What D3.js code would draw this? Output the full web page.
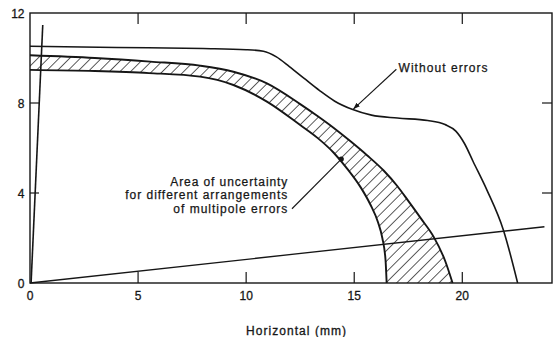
<!DOCTYPE html>
<html>
<head>
<meta charset="utf-8">
<script src="https://cdn.jsdelivr.net/npm/d3@7"></script>
<style>
  html, body { margin: 0; padding: 0; background: #fff; }
  svg { display: block; }
  text { font-family: "Liberation Sans", Arial, Helvetica, sans-serif; fill: #161616; }
</style>
</head>
<body>
<div id="chart"></div>
<script>
// ---- data ----
const xTicks = [5, 10, 15, 20];
const xTickLabels = [0, 5, 10, 15, 20];
const yTicks = [4, 8];
const yTickLabels = [0, 4, 8, 12];
const xLabel = "Horizontal (mm)";

// "Without errors" curve
const withoutErrorsX = [0, 4, 8, 10, 10.8, 11.4, 12.0, 12.7, 13.4, 14.1, 14.9, 15.8, 17.0, 18.4, 19.2, 19.7, 20.1, 20.5, 21.14, 21.9, 22.56];
const withoutErrorsY = [10.52, 10.47, 10.42, 10.37, 10.3, 10.05, 9.62, 9.08, 8.55, 8.08, 7.72, 7.46, 7.33, 7.22, 7.04, 6.75, 6.2, 5.4, 4.13, 2.36, 0];

// Area of uncertainty: outer boundary
const bandOuterX = [0, 3, 5.56, 7.87, 9.41, 10.96, 12.5, 13.3, 14.04, 14.8, 15.59, 16.36, 17.0, 17.5, 18.1, 18.67, 19.2, 19.55];
const bandOuterY = [10.12, 10.0, 9.84, 9.66, 9.39, 8.87, 7.95, 7.42, 6.9, 6.32, 5.68, 5.0, 4.3, 3.65, 2.85, 2.06, 1.0, 0];
// Area of uncertainty: inner boundary
const bandInnerX = [0, 3, 5.5, 7.87, 9.41, 10.96, 12.5, 13.3, 14.04, 14.7, 15.3, 15.74, 16.1, 16.3, 16.45, 16.5];
const bandInnerY = [9.47, 9.42, 9.33, 9.17, 8.8, 8.06, 7.02, 6.45, 5.8, 5.05, 4.25, 3.5, 2.7, 2.0, 1.0, 0];

// straight lines
const steepLineX = [0.05, 0.59];
const steepLineY = [0, 11.47];
const shallowLineX = [0, 23.8];
const shallowLineY = [0, 2.5];

const annotWithout = "Without errors";
const annotArea = ["Area of uncertainty", "for different arrangements", "of multipole errors"];

// ---- layout ----
const W = 554, H = 337;
const x = d3.scaleLinear().domain([0, 24.15]).range([30, 552]);
const y = d3.scaleLinear().domain([0, 12]).range([283, 13]);
const ink = "#161616";

const svg = d3.select("#chart").append("svg").attr("width", W).attr("height", H);
svg.append("rect").attr("width", W).attr("height", H).attr("fill", "#fff");

const defs = svg.append("defs");
const pat = defs.append("pattern")
  .attr("id", "hatch").attr("patternUnits", "userSpaceOnUse")
  .attr("width", 7.5).attr("height", 7.5)
  .attr("patternTransform", "rotate(45)");
pat.append("line").attr("x1", 0).attr("y1", 0).attr("x2", 0).attr("y2", 7.5)
  .attr("stroke", ink).attr("stroke-width", 1.4);

defs.append("marker").attr("id", "arrow")
  .attr("viewBox", "0 0 10 10").attr("refX", 9).attr("refY", 5)
  .attr("markerWidth", 7).attr("markerHeight", 7).attr("markerUnits", "userSpaceOnUse")
  .attr("orient", "auto")
  .append("path").attr("d", "M0,1.5 L10,5 L0,8.5 Z").attr("fill", ink);

const zip = (xs, ys) => xs.map((v, i) => [v, ys[i]]);
const line = d3.line().x(d => x(d[0])).y(d => y(d[1])).curve(d3.curveMonotoneX);
const straight = d3.line().x(d => x(d[0])).y(d => y(d[1]));

// band fill
const outerPts = zip(bandOuterX, bandOuterY);
const innerPts = zip(bandInnerX, bandInnerY);
const dOuter = line(outerPts);
const dInnerRev = line(innerPts.slice().reverse());
svg.append("path").attr("d", dOuter + dInnerRev.replace(/^M/, "L") + "Z")
  .attr("fill", "url(#hatch)").attr("stroke", "none");
svg.append("path").attr("d", dOuter).attr("fill", "none").attr("stroke", ink).attr("stroke-width", 1.9);
svg.append("path").attr("d", line(innerPts)).attr("fill", "none").attr("stroke", ink).attr("stroke-width", 1.9);

// without errors curve
svg.append("path").attr("d", line(zip(withoutErrorsX, withoutErrorsY)))
  .attr("fill", "none").attr("stroke", ink).attr("stroke-width", 1.6);

// straight lines
svg.append("path").attr("d", straight(zip(steepLineX, steepLineY)))
  .attr("fill", "none").attr("stroke", ink).attr("stroke-width", 1.6);
svg.append("path").attr("d", straight(zip(shallowLineX, shallowLineY)))
  .attr("fill", "none").attr("stroke", ink).attr("stroke-width", 1.3);

// frame
svg.append("rect")
  .attr("x", x(0)).attr("y", y(12))
  .attr("width", x(24.15) - x(0)).attr("height", y(0) - y(12))
  .attr("fill", "none").attr("stroke", ink).attr("stroke-width", 1.4);

// ticks (inward)
const tickG = svg.append("g").attr("stroke", ink).attr("stroke-width", 1.2);
xTicks.forEach(t => {
  tickG.append("line").attr("x1", x(t)).attr("x2", x(t)).attr("y1", y(0)).attr("y2", y(0) - 11);
  tickG.append("line").attr("x1", x(t)).attr("x2", x(t)).attr("y1", y(12)).attr("y2", y(12) + 11);
});
yTicks.forEach(t => {
  tickG.append("line").attr("x1", x(0)).attr("x2", x(0) + 9).attr("y1", y(t)).attr("y2", y(t));
  tickG.append("line").attr("x1", x(24.15)).attr("x2", x(24.15) - 10).attr("y1", y(t)).attr("y2", y(t));
});

// tick labels
const lab = svg.append("g").attr("font-size", 12).attr("stroke", ink).attr("stroke-width", 0.3);
xTickLabels.forEach(t => {
  lab.append("text").attr("x", x(t)).attr("y", y(0) + 16.5).attr("text-anchor", "middle").text(t);
});
yTickLabels.forEach(t => {
  lab.append("text").attr("x", x(0) - 5.5).attr("y", y(t) + 4.5).attr("text-anchor", "end").text(t);
});
lab.append("text").attr("x", 246).attr("y", 335).attr("textLength", 100)
  .attr("lengthAdjust", "spacing").text(xLabel);

// annotation: without errors
const annG = svg.append("g").attr("font-size", 12).attr("stroke", ink).attr("stroke-width", 0.25);
annG.append("text").attr("x", x(17.05)).attr("y", y(9.56) + 4.3)
  .attr("textLength", 89).attr("lengthAdjust", "spacing").text(annotWithout);
svg.append("line")
  .attr("x1", x(16.95)).attr("y1", y(9.5))
  .attr("x2", x(14.97)).attr("y2", y(7.74))
  .attr("stroke", ink).attr("stroke-width", 1.1).attr("marker-end", "url(#arrow)");

// annotation: area of uncertainty
const areaLens = [117, 162, 114];
const areaBase = [185.5, 199, 212.5];
annotArea.forEach((s, i) => {
  annG.append("text").attr("x", 287.3 - areaLens[i]).attr("y", areaBase[i])
    .attr("textLength", areaLens[i]).attr("lengthAdjust", "spacing").text(s);
});
svg.append("line")
  .attr("x1", x(12.12)).attr("y1", y(3.3))
  .attr("x2", x(14.4)).attr("y2", y(5.51))
  .attr("stroke", ink).attr("stroke-width", 1.1);
svg.append("circle").attr("cx", x(14.4)).attr("cy", y(5.51)).attr("r", 2.6).attr("fill", ink);
</script>
</body>
</html>
